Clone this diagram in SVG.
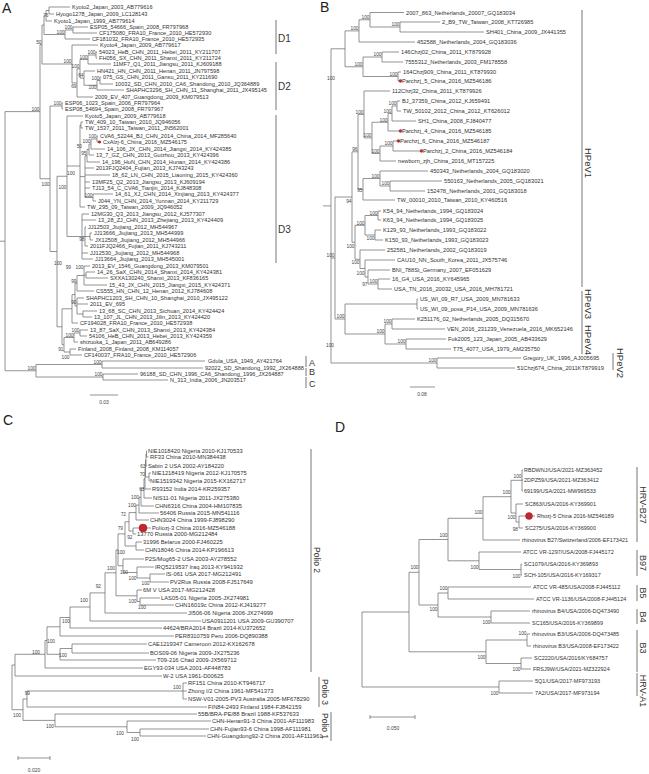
<svg xmlns="http://www.w3.org/2000/svg" width="649" height="774" viewBox="0 0 649 774">
<style>
text{font-family:"Liberation Sans",Arial,sans-serif;fill:#333}
.a{font-size:5.6px}.b{font-size:5.7px}.c{font-size:5.8px}.d{font-size:5.5px}
.bs{font-size:4.8px;text-anchor:end;fill:#444}
.cl{font-size:10px;fill:#333}
.rot{text-anchor:middle}
.pl{font-size:14px;fill:#222}
.ln{stroke:#666;stroke-width:0.7;fill:none}
.bar{stroke:#777;stroke-width:1;fill:none}
.sc{font-size:5px;text-anchor:middle;fill:#444}
.dot{fill:#c4262e;stroke:#8a1218;stroke-width:0.4}
</style>
<rect width="649" height="774" fill="#fff"/>
<g id="connectors">
<path class="ln" d="M0 241.2H5M5 111.6V370.75M5 111.6H40M5 370.75H36M40 44.5V178.75M40 44.5H42M40 178.75H50M42 25.1V64M42 25.1H44M42 64H72M44 15.75V34.5M44 15.75H46M44 34.5H65M46 10.5V21M46 10.5H49M46 21H52M49 7V14M49 7H70M49 14H54M65 30V39M65 30H73M65 39H90M73 27V33M73 27H88M73 33H97M72 45V82.9M72 45H98M72 82.9H77M77 68.8V97M77 68.8H80M77 97H93M80 59.5V78.1M80 59.5H88M80 78.1H84M88 55V64M88 55H96M88 64H111M96 52V58M96 52H97M96 58H97M84 71V85.25M84 71H95M84 85.25H97M97 80.5V90M97 80.5H100M97 90H124M100 77V84M100 77H101M100 84H113M50 106V251.5M50 106H62M50 251.5H57M62 103V109M62 103H63M62 109H63M57 176.25V326.8M57 176.25H67M57 326.8H62M67 116V236.5M67 116H83M67 166H80M67 236.5H82M80 125V207M80 125H81M80 176.6H85M80 207H85M81 122V128M81 122H83M81 128H83M85 155.75V197.5M85 155.75H87M85 168H94M85 175H110M85 182H90M85 188H90M85 197.5H93M87 149.5V162M87 149.5H89M87 162H100M89 144V155M89 144H91M89 155H94M91 139V149M91 139H97M91 149H105M97 136V142M97 136H98M97 142H101M93 194V201M93 194H113M93 201H96M82 214V259M82 214H89M82 220H96M82 253H88M82 259H93M82 236.5H85M85 227V246M85 227H86M85 246H88M85 236.5H90M90 233V240M90 233H92M90 240H93M62 308.8V344.75M62 308.8H72M62 344.75H64M72 294.6V323M72 294.6H75M72 323H78M75 283.25V306M75 283.25H77M75 306H77M77 275.5V291M77 275.5H84M77 291H94M84 266V285M84 266H90M84 285H107M84 275H86M86 272V278M86 272H95M86 278H108M77 298V314M77 298H84M77 304H88M77 314H83M83 311V317M83 311H97M83 317H92M64 337.5V352M64 337.5H74M64 352H70M74 333V342M74 333H80M74 342H78M80 330V336M80 330H88M80 336H87M70 349V355M70 349H76M70 355H82M36 364.5V377M36 364.5H102M36 377H103M102 361V368M102 361H205M102 368H203M103 374V380M103 374H138M103 380H168M90 395H118"/>
<path class="ln" d="M323 205.9H331M331 48.8V363M331 48.8H345M331 258H335M331 363H437M345 30.9V66.75M345 30.9H359M345 66.75H363M359 19.75V42M359 19.75H370M359 42H415M370 12.5V27M370 12.5H404M370 27H400M400 22V32M400 22H440M400 32H484M363 57V76.5M363 57H382M363 76.5H398M382 52V62M382 52H399M382 62H403M398 72V81M398 72H401M398 81H400M335 197V319M335 197H352M335 319H345M352 151.8V242.25M352 151.8H358M352 242.25H355M358 114.4V189.25M358 114.4H364M358 189.25H363M364 91V137.9M364 91H390M364 137.9H372M372 122.25V153.5M372 122.25H388M372 153.5H380M388 113.5V131M388 113.5H392M388 131H400M392 106V121M392 106H397M392 121H416M397 101V111M397 101H400M397 111H401M380 146V161M380 146H393M380 161H396M393 141V151M393 141H398M393 151H421M363 178.5V200M363 178.5H380M363 200H395M380 171V186M380 171H428M380 186H390M390 181V191M390 181H442M390 191H425M355 225.25V259.25M355 225.25H365M355 259.25H360M365 215.5V235M365 215.5H378M365 235H375M378 211V220M378 211H381M378 220H381M375 230V240M375 230H381M375 240H383M360 250V268.5M360 250H385M360 268.5H365M365 260V277M365 260H395M365 277H368M368 270V284M368 270H390M368 284H378M378 279V289M378 279H390M378 289H392M345 304V334M345 304H417M345 334H385M417 299V309M417 299H418M417 309H418M385 324V344M385 324H392M385 344H406M392 319V329M392 319H415M392 329H445M406 339V349M406 339H446M406 349H451M437 358V368M437 358H521M437 368H515M410 387H435"/>
<path class="ln" d="M12 665V709.7M12 665H15M12 709.7H23M15 654.3V676M15 654.3H45M15 676H162M45 640.5V668M45 640.5H47M45 668H143M47 626.8V654.3M47 626.8H60M47 654.3H60M60 617.5V636M60 617.5H70M60 636H174M60 648.5V660M60 648.5H72M60 660H156M72 644V653M72 644H147M72 653H149M70 607V628M70 607H90M70 628H162M90 592.9V621M90 592.9H105M90 621H201M105 572.8V613M105 572.8H116M105 613H187M116 549.9V595.8M116 549.9H118M116 595.8H137M118 533.9V565.8M118 533.9H125M118 565.8H123M125 521.8V546M125 521.8H129M125 546H136M129 512.6V531M129 512.6H136M129 531H133M136 505.1V520M136 505.1H139M136 520H149M139 497.2V513M139 497.2H141M139 513H159M141 488.4V506M141 488.4H144M141 506H154M144 478.8V498M144 478.8H145M144 498H152M145 468.5V489M145 468.5H145.5M145 489H151M145.5 460V477M145.5 460H146M145.5 477H149M146 454V466M146 454H146.5M146 466H147M146.5 451V457M146.5 451H147M146.5 457H148.5M149 473V481M149 473H151M149 481H149.5M133 528V534M133 528H151M133 534H136M136 542V550M136 542H142M136 550H144M123 559V572.5M123 559H144M123 572.5H137M137 567V578M137 567H154M137 578H150M150 574V582M150 574H165M150 582H169M137 590V601.5M137 590H142M137 601.5H140M140 598V605M140 598H160M140 605H174M23 699V720.4M23 699H27M23 720.4H55M27 691V707M27 691H183M27 707H207M183 683V699M183 683H187M183 691H187M183 699H187M55 714V726.8M55 714H197M55 726.8H127M127 721V732.5M127 721H211M127 732.5H140M140 729V736M140 729H209M140 736H206M18 758H50M18 756V760M50 756V760"/>
<path class="ln" d="M362 612V687M362 612H409M362 687H499M409 572.3V651.8M409 572.3H419M409 651.8H486M419 539.5V605M419 539.5H448M419 605H438M448 518.3V560.8M448 518.3H483M448 560.8H479M483 496.7V540M483 496.7H511M483 540H520M511 480.3V513M511 480.3H522M511 513H516M522 470V491M522 470H523M522 480H523M522 491H523M516 504V522M516 504H523M516 522H519M519 516V528M519 516H535M519 528H523M479 552V569.5M479 552H521M479 569.5H521M521 564V575M521 564H522M521 575H522M438 593V617M438 593H448M438 617H491M448 587V599M448 587H531M448 599H534M491 611V623M491 611H530M491 623H530M486 640V663.5M486 640H527M486 663.5H521M527 634V646M527 634H530M527 646H531M521 658V669M521 658H532M521 669H531M499 681V693M499 681H533M499 693H533M370 717H415M370 715V719M415 715V719"/>
</g>
<g id="brackets">
<path class="bar" d="M276 20V54M276 62V110M276 115V263M306 356V367M306 368V376M306 377V388M582 10V287M582 291V354M613 353V370M311 449V672M319 677V707M331 712V741M637 467V542M637 550V576M637 585V601M637 609V624M637 630V672M637 673V696"/>
</g>
<g id="panel-labels">
<text class="pl" x="2" y="13">A</text>
<text class="pl" x="320" y="12">B</text>
<text class="pl" x="3" y="425">C</text>
<text class="pl" x="335" y="432">D</text>
</g>
<g id="clade-labels">
<text class="cl" x="278" y="42">D1</text>
<text class="cl" x="278" y="90">D2</text>
<text class="cl" x="278" y="233">D3</text>
<text class="cl" style="font-size:9px" x="309" y="366">A</text>
<text class="cl" style="font-size:9px" x="309" y="375">B</text>
<text class="cl" style="font-size:9px" x="309" y="387">C</text>
<text class="cl rot" style="font-size:9.5px" transform="translate(585 163) rotate(90)">HPeV1</text>
<text class="cl rot" style="font-size:9.5px" transform="translate(585 304) rotate(90)">HPeV3</text>
<text class="cl rot" style="font-size:9.5px" transform="translate(585 340) rotate(90)">HPeV4</text>
<text class="cl rot" style="font-size:9.5px" transform="translate(617 363) rotate(90)">HPeV2</text>
<text class="cl rot" style="font-size:8.5px" transform="translate(314 560) rotate(90)">Polio 2</text>
<text class="cl rot" style="font-size:8.5px" transform="translate(322 692) rotate(90)">Polio 3</text>
<text class="cl rot" style="font-size:8.5px" transform="translate(322 726) rotate(90)">Polio 1</text>
<text class="cl rot" style="font-size:9px" transform="translate(640 505) rotate(90)">HRV-B27</text>
<text class="cl rot" style="font-size:9px" transform="translate(640 563) rotate(90)">B97</text>
<text class="cl rot" style="font-size:9px" transform="translate(640 593) rotate(90)">B5</text>
<text class="cl rot" style="font-size:9px" transform="translate(640 617) rotate(90)">B4</text>
<text class="cl rot" style="font-size:9px" transform="translate(640 648) rotate(90)">B3</text>
<text class="cl rot" style="font-size:9px" transform="translate(640 691) rotate(90)">HRV-A1</text>
</g>
<g id="scales">
<text class="sc" x="104" y="404">0.03</text>
<text class="sc" x="422" y="396">0.08</text>
<text class="sc" x="34" y="772">0.020</text>
<text class="sc" x="393" y="730">0.050</text>
</g>
<g id="markers">
<circle class="dot" cx="99.5" cy="142" r="1.3"/>
<circle class="dot" cx="400.5" cy="81" r="1.4"/>
<circle class="dot" cx="400.5" cy="131" r="1.4"/>
<circle class="dot" cx="398.5" cy="141" r="1.4"/>
<circle class="dot" cx="421.5" cy="151" r="1.4"/>
<circle class="dot" cx="143" cy="528" r="4"/>
<circle class="dot" cx="529" cy="516" r="3.5"/>
</g>
<g id="tree-A">
<g id="A01"><text class="a" x="72" y="9">Kyoto2_Japan_2003_AB779616</text></g>
<g id="A02"><text class="a" x="56" y="16">Hyogo1278_Japan_2009_LC128143</text></g>
<g id="A03"><text class="a" x="54" y="23">Kyoto1_Japan_1999_AB779614</text></g>
<g id="A04"><text class="a" x="90" y="29">ESP05_54666_Spain_2008_FR797968</text></g>
<g id="A05"><text class="a" x="99" y="35">CF175080_FRA10_France_2010_HE572930</text></g>
<g id="A06"><text class="a" x="92" y="41">CF181032_FRA10_France_2010_HE572935</text></g>
<g id="A07"><text class="a" x="100" y="47">Kyoto4_Japan_2009_AB779617</text></g>
<g id="A08"><text class="a" x="99" y="54">54023_HeB_CHN_2011_Hebei_2011_KY211707</text></g>
<g id="A09"><text class="a" x="99" y="60">FH056_SX_CHN_2011_Shanxi_2011_KY211724</text></g>
<g id="A10"><text class="a" x="113" y="66">11MF7_Q1_2011_Jiangsu_2011_KJ609188</text></g>
<g id="A11"><text class="a" x="97" y="73">HN421_HN_CHN_2011_Henan_2011_JN797598</text></g>
<g id="A12"><text class="a" x="103" y="79">075_GS_CHN_2011_Gansu_2011_KY211690</text></g>
<g id="A13"><text class="a" x="115" y="86">10032_SD_CHN_2010_CA6_Shandong_2010_JQ364889</text></g>
<g id="A14"><text class="a" x="126" y="92">SHAPHC3296_SH_CHN_11_Shanghai_2011_JX495145</text></g>
<g id="A15"><text class="a" x="95" y="99">2009_EV_407_Guangdong_2009_KM079513</text></g>
<g id="A16"><text class="a" x="65" y="105">ESP06_1023_Spain_2006_FR797964</text></g>
<g id="A17"><text class="a" x="65" y="111">ESP08_54694_Spain_2008_FR797967</text></g>
<g id="A18"><text class="a" x="85" y="118">Kyoto5_Japan_2009_AB779618</text></g>
<g id="A19"><text class="a" x="85" y="124">TW_409_10_Taiwan_2010_JQ946056</text></g>
<g id="A20"><text class="a" x="85" y="130">TW_1537_2011_Taiwan_2011_JN562001</text></g>
<g id="A21"><text class="a" x="100" y="138">CVA6_52244_BJ_CHN_2014_China_2014_MF285640</text></g>
<g id="A22"><text class="a" x="103" y="144">CxAlzj-6_China_2016_MZ546175</text></g>
<g id="A23"><text class="a" x="107" y="151">14_106_JX_CHN_2014_Jiangxi_2014_KY424385</text></g>
<g id="A24"><text class="a" x="96" y="157">13_7_GZ_CHN_2013_Guizhou_2013_KY424396</text></g>
<g id="A25"><text class="a" x="102" y="164">14_196_HuN_CHN_2014_Hunan_2014_KY424386</text></g>
<g id="A26"><text class="a" x="96" y="170">2013FJQ2404_Fujian_2013_KJ743243</text></g>
<g id="A27"><text class="a" x="112" y="177">18_62_LN_CHN_2015_Liaoning_2015_KY424360</text></g>
<g id="A28"><text class="a" x="92" y="184">13MF25_Q2_2013_Jiangsu_2013_KJ609194</text></g>
<g id="A29"><text class="a" x="92" y="190">TJ13_54_C_CVA6_Tianjin_2014_KJ848308</text></g>
<g id="A30"><text class="a" x="115" y="196">14_61_XJ_CHN_2014_Xinjiang_2013_KY424377</text></g>
<g id="A31"><text class="a" x="98" y="203">J044_YN_CHN_2014_Yunnan_2014_KY211729</text></g>
<g id="A32"><text class="a" x="87" y="209">TW_295_09_Taiwan_2009_JQ946052</text></g>
<g id="A33"><text class="a" x="91" y="216">12MG30_Q3_2013_Jiangsu_2012_KJ577307</text></g>
<g id="A34"><text class="a" x="98" y="222">13_28_ZJ_CHN_2013_Zhejiang_2013_KY424409</text></g>
<g id="A35"><text class="a" x="88" y="229">JJ12503_Jiujiang_2012_MH544967</text></g>
<g id="A36"><text class="a" x="94" y="235">JJ13666_Jiujiang_2013_MH544999</text></g>
<g id="A37"><text class="a" x="95" y="242">JX12508_Jiujiang_2012_MH544966</text></g>
<g id="A38"><text class="a" x="90" y="248">2011FJQ2466_Fujian_2011_KJ743211</text></g>
<g id="A39"><text class="a" x="90" y="255">JJ12530_Jiujiang_2012_MH544968</text></g>
<g id="A40"><text class="a" x="95" y="261">JJ13664_Jiujiang_2013_MH545001</text></g>
<g id="A41"><text class="a" x="92" y="268">2013_EV_1546_Guangdong_2013_KM079501</text></g>
<g id="A42"><text class="a" x="97" y="274">14_26_SaX_CHN_2014_Shanxi_2014_KY424381</text></g>
<g id="A43"><text class="a" x="110" y="280">SXXA130240_Shanxi_2013_KF836165</text></g>
<g id="A44"><text class="a" x="109" y="287">15_43_JX_CHN_2015_Jiangxi_2015_KY424371</text></g>
<g id="A45"><text class="a" x="96" y="293">CS555_HN_CHN_12_Henan_2012_KJ784608</text></g>
<g id="A46"><text class="a" x="86" y="300">SHAPHC1203_SH_CHN_10_Shanghai_2010_JX495122</text></g>
<g id="A47"><text class="a" x="90" y="306">2011_EV_695</text></g>
<g id="A48"><text class="a" x="99" y="313">13_68_SC_CHN_2013_Sichuan_2014_KY424424</text></g>
<g id="A49"><text class="a" x="94" y="319">13_107_JL_CHN_2013_Jilin_2013_KY424420</text></g>
<g id="A50"><text class="a" x="80" y="325">CF194028_FRA10_France_2010_HE572938</text></g>
<g id="A51"><text class="a" x="90" y="332">13_87_SaX_CHN_2013_Shanxi_2013_KY424384</text></g>
<g id="A52"><text class="a" x="89" y="338">54106_HeB_CHN_2013_Hebei_2013_KY424359</text></g>
<g id="A53"><text class="a" x="80" y="344">shizuoka_1_Japan_2011_AB649286</text></g>
<g id="A54"><text class="a" x="78" y="351">Finland_2008_Finland_2008_KM114057</text></g>
<g id="A55"><text class="a" x="84" y="357">CF140037_FRA10_France_2010_HE572906</text></g>
<g id="A56"><text class="a" x="208" y="363">Gdula_USA_1949_AY421764</text></g>
<g id="A57"><text class="a" x="205" y="370">92022_SD_Shandong_1992_JX264888</text></g>
<g id="A58"><text class="a" x="140" y="376">96188_SD_CHN_1996_CA6_Shandong_1996_JX264887</text></g>
<g id="A59"><text class="a" x="170" y="382">N_313_India_2006_JN203517</text></g>
<g id="A-support">
<text class="bs" x="48.5" y="16.5">76</text><text class="bs" x="72.5" y="29.2">100</text><text class="bs" x="64.5" y="33.7">100</text><text class="bs" x="41.5" y="43.7">50</text><text class="bs" x="95.5" y="54.2">100</text><text class="bs" x="87.5" y="58.7">100</text><text class="bs" x="99.5" y="79.7">100</text><text class="bs" x="96.5" y="89">100</text><text class="bs" x="83.5" y="77.3">64</text><text class="bs" x="79.5" y="68">100</text><text class="bs" x="76.5" y="88">69</text><text class="bs" x="71.5" y="63.2">100</text><text class="bs" x="39.5" y="110.8">100</text><text class="bs" x="61.5" y="105.2">100</text><text class="bs" x="96.5" y="138.2">100</text><text class="bs" x="90.5" y="143.2">100</text><text class="bs" x="82" y="147.5">50</text><text class="bs" x="86.5" y="155">95</text><text class="bs" x="75" y="174.5">100</text><text class="bs" x="92.5" y="196.7">100</text><text class="bs" x="66.5" y="189">100</text><text class="bs" x="49.5" y="186">100</text><text class="bs" x="84.5" y="241">98</text><text class="bs" x="62" y="264.5">100</text><text class="bs" x="83.5" y="268.5">100</text><text class="bs" x="76.5" y="282.5">99</text><text class="bs" x="71" y="268.5">99</text><text class="bs" x="76.5" y="304.2">90</text><text class="bs" x="79.5" y="332.2">100</text><text class="bs" x="73.5" y="336.7">100</text><text class="bs" x="69.5" y="358.5">100</text><text class="bs" x="63.5" y="351">91</text><text class="bs" x="101.5" y="363.7">100</text><text class="bs" x="102.5" y="376.2">100</text><text class="bs" x="35.5" y="370">100</text>
</g>
</g>
<g id="tree-B">
<g id="B01"><text class="b" x="406" y="14.5">2007_863_Netherlands_20007_GQ183034</text></g>
<g id="B02"><text class="b" x="442" y="24">2_B9_TW_Taiwan_2008_KT726985</text></g>
<g id="B03"><text class="b" x="486" y="34">SH401_China_2009_JX441355</text></g>
<g id="B04"><text class="b" x="417" y="44">452588_Netherlands_2004_GQ183036</text></g>
<g id="B05"><text class="b" x="401" y="54">146Chzj02_China_2011_KT879928</text></g>
<g id="B06"><text class="b" x="405" y="64">7555312_Netherlands_2003_FM178558</text></g>
<g id="B07"><text class="b" x="403" y="74">164Chzj909_China_2011_KT879930</text></g>
<g id="B08"><text class="b" x="402" y="83">Parchzj_5_China_2016_MZ546186</text></g>
<g id="B09"><text class="b" x="392" y="93">112Chzj32_China_2011_KT879926</text></g>
<g id="B10"><text class="b" x="402" y="103">BJ_37359_China_2012_KJ659491</text></g>
<g id="B11"><text class="b" x="403" y="113">TW_50102_2012_China_2012_KT626012</text></g>
<g id="B12"><text class="b" x="418" y="123">SH1_China_2008_FJ840477</text></g>
<g id="B13"><text class="b" x="402" y="133">Parchzj_4_China_2016_MZ546185</text></g>
<g id="B14"><text class="b" x="400" y="143">Parchzj_6_China_2016_MZ546187</text></g>
<g id="B15"><text class="b" x="423" y="153">Parchzj_2_China_2016_MZ546184</text></g>
<g id="B16"><text class="b" x="398" y="163">newborn_zjh_China_2016_MT157225</text></g>
<g id="B17"><text class="b" x="430" y="173">450343_Netherlands_2004_GQ183020</text></g>
<g id="B18"><text class="b" x="444" y="183">550163_Netherlands_2005_GQ183021</text></g>
<g id="B19"><text class="b" x="427" y="193">152478_Netherlands_2001_GQ183018</text></g>
<g id="B20"><text class="b" x="397" y="202">TW_00010_2010_Taiwan_2010_KY460516</text></g>
<g id="B21"><text class="b" x="383" y="213">K54_94_Netherlands_1994_GQ183024</text></g>
<g id="B22"><text class="b" x="383" y="222">K63_94_Netherlands_1994_GQ183025</text></g>
<g id="B23"><text class="b" x="383" y="232">K129_93_Netherlands_1993_GQ183022</text></g>
<g id="B24"><text class="b" x="385" y="242">K150_93_Netherlands_1993_GQ183023</text></g>
<g id="B25"><text class="b" x="387" y="252">252581_Netherlands_2002_GQ183019</text></g>
<g id="B26"><text class="b" x="397" y="262">CAU10_NN_South_Korea_2011_JX575746</text></g>
<g id="B27"><text class="b" x="392" y="272">BNI_788St_Germany_2007_EF051629</text></g>
<g id="B28"><text class="b" x="392" y="281">16_G4_USA_2016_KY645965</text></g>
<g id="B29"><text class="b" x="394" y="291">USA_TN_2016_20032_USA_2016_MH781721</text></g>
<g id="B30"><text class="b" x="420" y="301">US_WI_09_R7_USA_2009_MN781633</text></g>
<g id="B31"><text class="b" x="420" y="311">US_WI_09_posa_P14_USA_2009_MN781636</text></g>
<g id="B32"><text class="b" x="417" y="321">K251176_02_Netherlands_2005_DQ315670</text></g>
<g id="B33"><text class="b" x="447" y="331">VEN_2016_231239_Venezuela_2016_MK652146</text></g>
<g id="B34"><text class="b" x="448" y="341">Fuk2005_123_Japan_2005_AB433629</text></g>
<g id="B35"><text class="b" x="453" y="351">T75_4077_USA_1979_AM235750</text></g>
<g id="B36"><text class="b" x="523" y="360">Gregory_UK_1996_AJ005695</text></g>
<g id="B37"><text class="b" x="517" y="370">51Chzj674_China_2011KT879919</text></g>
<g id="B-support">
<text class="bs" x="399.5" y="26.2">100</text><text class="bs" x="369.5" y="19">100</text><text class="bs" x="358.5" y="30.1">100</text><text class="bs" x="335" y="80">100</text><text class="bs" x="381.5" y="56.2">100</text><text class="bs" x="397.5" y="75.7">100</text><text class="bs" x="362.5" y="66">100</text><text class="bs" x="334.5" y="257.2">100</text><text class="bs" x="351.5" y="203">94</text><text class="bs" x="357.5" y="151">96</text><text class="bs" x="363.5" y="113.6">100</text><text class="bs" x="371.5" y="137.1">100</text><text class="bs" x="387.5" y="121.5">100</text><text class="bs" x="391.5" y="112.7">100</text><text class="bs" x="396.5" y="105.2">100</text><text class="bs" x="379.5" y="152.7">100</text><text class="bs" x="392.5" y="145.2">100</text><text class="bs" x="362.5" y="192">95</text><text class="bs" x="379.5" y="177.7">100</text><text class="bs" x="389.5" y="185.2">100</text><text class="bs" x="354.5" y="247.5">100</text><text class="bs" x="364.5" y="224.5">100</text><text class="bs" x="377.5" y="214.7">100</text><text class="bs" x="374.5" y="239.5">100</text><text class="bs" x="359.5" y="263.5">100</text><text class="bs" x="364.5" y="274.5">100</text><text class="bs" x="367.5" y="286">97</text><text class="bs" x="377.5" y="283.2">100</text><text class="bs" x="344.5" y="318.2">100</text><text class="bs" x="384.5" y="333.2">100</text><text class="bs" x="391.5" y="323.2">100</text><text class="bs" x="405.5" y="343.2">100</text><text class="bs" x="436.5" y="362.2">100</text><text class="bs" x="334" y="347">100</text>
</g>
</g>
<g id="tree-C">
<g id="C01"><text class="c" x="148" y="453">NIE1018420 Nigeria 2010-KJ170533</text></g>
<g id="C02"><text class="c" x="150" y="459">RF33 China 2010-MN384438</text></g>
<g id="C03"><text class="c" x="148" y="468">Sabin 2 USA 2002-AY184220</text></g>
<g id="C04"><text class="c" x="152" y="475">NIE1218419 Nigeria 2012-KJ170575</text></g>
<g id="C05"><text class="c" x="150" y="483">NIE1519342 Nigeria 2015-KX162717</text></g>
<g id="C06"><text class="c" x="152" y="491">R93152 India 2014-KR259357</text></g>
<g id="C07"><text class="c" x="153" y="500">NIS11-01 Nigeria 2011-JX275380</text></g>
<g id="C08"><text class="c" x="155" y="508">CHN6316 China 2004-HM107835</text></g>
<g id="C09"><text class="c" x="160" y="515">56406 Russia 2015-MN541116</text></g>
<g id="C10"><text class="c" x="150" y="522">CHN3024 China 1999-FJ898290</text></g>
<g id="C11"><text class="c" x="152" y="530">Poliozj-3 China 2016-MZ546188</text></g>
<g id="C12"><text class="c" x="137" y="536">13770 Russia 2000-MG212484</text></g>
<g id="C13"><text class="c" x="143" y="544">31996 Belarus 2000-FJ460225</text></g>
<g id="C14"><text class="c" x="145" y="552">CHN18046 China 2014-KP196613</text></g>
<g id="C15"><text class="c" x="145" y="561">P2S/Mog65-2 USA 2003-AY278552</text></g>
<g id="C16"><text class="c" x="155" y="569">IRQ5219537 Iraq 2013-KY941932</text></g>
<g id="C17"><text class="c" x="166" y="576">IS-061 USA 2017-MG212491</text></g>
<g id="C18"><text class="c" x="170" y="584">PV2Rus Russia 2008-FJ517649</text></g>
<g id="C19"><text class="c" x="143" y="592">6M V USA 2017-MG212428</text></g>
<g id="C20"><text class="c" x="161" y="600">LAS05-01 Nigeria 2005-JX274981</text></g>
<g id="C21"><text class="c" x="175" y="607">CHN16019c China 2012-KJ419277</text></g>
<g id="C22"><text class="c" x="188" y="615">JI506-06 Nigeria 2006-JX274999</text></g>
<g id="C23"><text class="c" x="202" y="623">USA0911201 USA 2009-GU390707</text></g>
<g id="C24"><text class="c" x="163" y="630">44624/BRA2014 Brazil 2014-KU372652</text></g>
<g id="C25"><text class="c" x="175" y="638">PER8310759 Peru 2006-DQ890388</text></g>
<g id="C26"><text class="c" x="148" y="646">CAE1219347 Cameroon 2012-KX162678</text></g>
<g id="C27"><text class="c" x="150" y="655">BOS09-06 Nigeria 2009-JX275236</text></g>
<g id="C28"><text class="c" x="157" y="662">T09-216 Chad 2009-JX569712</text></g>
<g id="C29"><text class="c" x="144" y="670">EGY93-034 USA 2001-AF448783</text></g>
<g id="C30"><text class="c" x="163" y="678">W-2 USA 1961-D00625</text></g>
<g id="C31"><text class="c" x="188" y="685">RF151 China 2010-KT946717</text></g>
<g id="C32"><text class="c" x="188" y="693">Zhong I/2 China 1961-MF541373</text></g>
<g id="C33"><text class="c" x="188" y="701">NSW-V01-2005-PV3 Australia 2005-MF678290</text></g>
<g id="C34"><text class="c" x="208" y="709">FIN84-2493 Finland 1984-FJ842159</text></g>
<g id="C35"><text class="c" x="198" y="716">55B/BRA-PE/88 Brazil 1988-KF537633</text></g>
<g id="C36"><text class="c" x="212" y="723">CHN-Henan91-3 China 2001-AF111983</text></g>
<g id="C37"><text class="c" x="210" y="731">CHN-Fujian93-6 China 1998-AF111981</text></g>
<g id="C38"><text class="c" x="207" y="738">CHN-Guangdong92-2 China 2001-AF111961</text></g>
<g id="C-support">
<text class="bs" x="145.5" y="468">63</text><text class="bs" x="145" y="476">70</text><text class="bs" x="144.5" y="491">63</text><text class="bs" x="139" y="499">100</text><text class="bs" x="136" y="507">100</text><text class="bs" x="126" y="516">72</text><text class="bs" x="123" y="530">79</text><text class="bs" x="132.5" y="539">92</text><text class="bs" x="125" y="554">100</text><text class="bs" x="136.5" y="580">100</text><text class="bs" x="149.5" y="585">100</text><text class="bs" x="115" y="570">100</text><text class="bs" x="128" y="574">100</text><text class="bs" x="101" y="588">92</text><text class="bs" x="136.5" y="603">100</text><text class="bs" x="146" y="609">100</text><text class="bs" x="88" y="602">100</text><text class="bs" x="70" y="623">100</text><text class="bs" x="55" y="643">100</text><text class="bs" x="40" y="654">100</text><text class="bs" x="67" y="657">100</text><text class="bs" x="181" y="689">100</text><text class="bs" x="30" y="695">99</text><text class="bs" x="21" y="717">100</text><text class="bs" x="54" y="728">100</text><text class="bs" x="124" y="735">100</text><text class="bs" x="139" y="741">100</text>
</g>
</g>
<g id="tree-D">
<g id="D01"><text class="d" x="524" y="472">RBDWNJ/USA/2021-MZ363452</text></g>
<g id="D02"><text class="d" x="524" y="482">2DPZ59/USA/2021-MZ363412</text></g>
<g id="D03"><text class="d" x="524" y="493">69199/USA/2021-MW969533</text></g>
<g id="D04"><text class="d" x="525" y="506">SC863/USA/2016-KY369901</text></g>
<g id="D05"><text class="d" x="537" y="518">Rhozj-5 China 2016-MZ546189</text></g>
<g id="D06"><text class="d" x="525" y="530">SC275/USA/2016-KY369900</text></g>
<g id="D07"><text class="d" x="522" y="542">rhinovirus B27/Switzerland/2006-EF173421</text></g>
<g id="D08"><text class="d" x="523" y="554">ATCC VR-1297/USA/2008-FJ445172</text></g>
<g id="D09"><text class="d" x="524" y="566">SC1079/USA/2016-KY369893</text></g>
<g id="D10"><text class="d" x="524" y="577">SCH-105/USA/2016-KY169317</text></g>
<g id="D11"><text class="d" x="533" y="589">ATCC VR-485/USA/2008-FJ445112</text></g>
<g id="D12"><text class="d" x="536" y="601">ATCC VR-1136/USA/2008-FJ445124</text></g>
<g id="D13"><text class="d" x="532" y="613">rhinovirus B4/USA/2006-DQ473490</text></g>
<g id="D14"><text class="d" x="532" y="625">SC165/USA/2016-KY369899</text></g>
<g id="D15"><text class="d" x="532" y="636">rhinovirus B3/USA/2006-DQ473485</text></g>
<g id="D16"><text class="d" x="533" y="648">rhinovirus B3/USA/2008-EF173422</text></g>
<g id="D17"><text class="d" x="534" y="660">SC2220/USA/2016/KY684757</text></g>
<g id="D18"><text class="d" x="533" y="671">FRSJ9W/USA/2021-MZ322924</text></g>
<g id="D19"><text class="d" x="535" y="683">5Q1/USA/2017-MF973193</text></g>
<g id="D20"><text class="d" x="535" y="695">7A2/USA/2017-MF973194</text></g>
<g id="D-support">
<text class="bs" x="521.5" y="478">100</text><text class="bs" x="515.5" y="519">100</text><text class="bs" x="518" y="531">98</text><text class="bs" x="510.5" y="494">100</text><text class="bs" x="482.5" y="514">100</text><text class="bs" x="520.5" y="578">100</text><text class="bs" x="478.5" y="569">100</text><text class="bs" x="447.5" y="537">100</text><text class="bs" x="447.5" y="589.5">100</text><text class="bs" x="490.5" y="624">100</text><text class="bs" x="437.5" y="611">100</text><text class="bs" x="418.5" y="569">100</text><text class="bs" x="526.5" y="635">100</text><text class="bs" x="520.5" y="671">100</text><text class="bs" x="485.5" y="659">100</text><text class="bs" x="498.5" y="695">100</text>
</g>
</g>
</svg>
